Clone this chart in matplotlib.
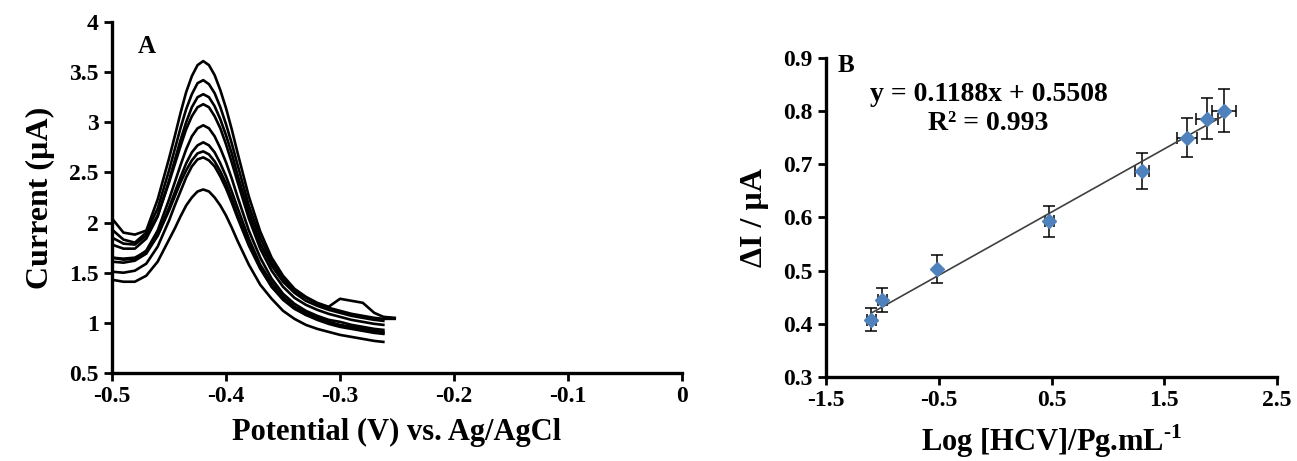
import matplotlib
matplotlib.use("Agg")
import matplotlib.pyplot as plt
import numpy as np

plt.rcParams['font.family'] = ['Liberation Serif', 'DejaVu Serif']
plt.rcParams['font.weight'] = 'bold'
plt.rcParams['axes.unicode_minus'] = False
plt.rcParams['mathtext.fontset'] = 'custom'
plt.rcParams['mathtext.rm'] = 'Liberation Serif:bold'
plt.rcParams['mathtext.bf'] = 'Liberation Serif:bold'

# --- panel A: DPV curves (potential grid shared by all curves) ---
potential = [-0.500, -0.490, -0.480, -0.470, -0.460, -0.450, -0.445, -0.440, -0.435, -0.430,
             -0.425, -0.420, -0.415, -0.410, -0.405, -0.400, -0.395, -0.390, -0.380, -0.370,
             -0.360, -0.350, -0.340, -0.330, -0.320, -0.310, -0.300, -0.290, -0.280, -0.270,
             -0.262, -0.252]

curve1 = [2.04, 1.90, 1.88, 1.92, 2.23, 2.64, 2.86, 3.09, 3.30, 3.46, 3.57, 3.61, 3.57, 3.47, 3.32, 3.14,
          2.93, 2.70, 2.26, 1.91, 1.65, 1.47, 1.34, 1.26, 1.20, 1.16, 1.24, 1.22, 1.20, 1.10, 1.06, 1.05]
curve2 = [1.93, 1.83, 1.80, 1.90, 2.14, 2.52, 2.73, 2.94, 3.13, 3.28, 3.39, 3.42, 3.38, 3.29, 3.15, 2.98,
          2.79, 2.58, 2.17, 1.85, 1.61, 1.44, 1.32, 1.25, 1.19, 1.15, 1.12, 1.09, 1.07, 1.05, 1.04, 1.04]
curve3 = [1.78, 1.74, 1.74, 1.84, 2.06, 2.42, 2.62, 2.82, 3.00, 3.15, 3.25, 3.28, 3.25, 3.16, 3.03, 2.87,
          2.69, 2.48, 2.10, 1.79, 1.57, 1.41, 1.30, 1.22, 1.17, 1.13, 1.10, 1.07, 1.05, 1.03, 1.02]
curve4 = [1.85, 1.79, 1.78, 1.87, 2.07, 2.40, 2.58, 2.76, 2.93, 3.06, 3.15, 3.18, 3.15, 3.06, 2.94, 2.78,
          2.60, 2.41, 2.04, 1.74, 1.52, 1.36, 1.25, 1.18, 1.13, 1.09, 1.06, 1.03, 1.01, 0.99, 0.98]
curve5 = [1.65, 1.63, 1.64, 1.72, 1.92, 2.23, 2.40, 2.57, 2.73, 2.86, 2.94, 2.97, 2.94, 2.86, 2.74, 2.60,
          2.44, 2.26, 1.92, 1.65, 1.44, 1.29, 1.19, 1.12, 1.07, 1.03, 1.01, 0.98, 0.96, 0.94, 0.93]
curve6 = [1.61, 1.60, 1.62, 1.69, 1.87, 2.15, 2.30, 2.45, 2.59, 2.70, 2.77, 2.80, 2.77, 2.70, 2.59, 2.46,
          2.31, 2.15, 1.84, 1.58, 1.40, 1.26, 1.16, 1.10, 1.05, 1.01, 0.98, 0.96, 0.94, 0.92, 0.91]
curve7 = [1.65, 1.64, 1.65, 1.71, 1.87, 2.12, 2.26, 2.40, 2.52, 2.62, 2.69, 2.71, 2.68, 2.61, 2.51, 2.39,
          2.24, 2.08, 1.79, 1.55, 1.36, 1.23, 1.14, 1.08, 1.03, 0.99, 0.96, 0.94, 0.92, 0.90, 0.89]
curve8 = [1.51, 1.50, 1.52, 1.59, 1.76, 2.02, 2.17, 2.31, 2.45, 2.56, 2.63, 2.65, 2.62, 2.56, 2.46, 2.34,
          2.20, 2.05, 1.77, 1.54, 1.36, 1.24, 1.15, 1.08, 1.04, 1.00, 0.97, 0.95, 0.93, 0.91, 0.90]
curve9 = [1.43, 1.41, 1.41, 1.47, 1.61, 1.83, 1.94, 2.06, 2.17, 2.25, 2.31, 2.33, 2.31, 2.25, 2.17, 2.07,
          1.95, 1.82, 1.58, 1.38, 1.24, 1.12, 1.04, 0.98, 0.94, 0.91, 0.88, 0.86, 0.84, 0.82, 0.81]

# --- panel B: calibration ---
log_conc = [-1.10, -1.00, -0.52, 0.48, 1.30, 1.70, 1.88, 2.03]
delta_i = [0.408, 0.445, 0.503, 0.593, 0.688, 0.750, 0.786, 0.801]
y_err = [0.021, 0.023, 0.026, 0.029, 0.034, 0.037, 0.038, 0.040]
x_err = [0.04, 0.04, 0.0, 0.04, 0.06, 0.09, 0.10, 0.105]
slope, intercept = 0.1188, 0.5508

fig = plt.figure(figsize=(12.97, 4.61), dpi=100)
ax1 = fig.add_axes([0.0864, 0.1909, 0.4394, 0.7614])
ax2 = fig.add_axes([0.6369, 0.1822, 0.3477, 0.692])

for c in [curve1, curve2, curve3, curve4, curve5, curve6, curve7, curve8, curve9]:
    ax1.plot(potential[:len(c)], c, color='black', lw=1.9, solid_joinstyle='round')

ax1.set_xlim(-0.5, 0)
ax1.set_ylim(0.5, 4)
ax1.set_xticks([-0.5, -0.4, -0.3, -0.2, -0.1, 0])
ax1.set_xticklabels(['-0.5', '-0.4', '-0.3', '-0.2', '-0.1', '0'])
ax1.set_yticks([0.5, 1, 1.5, 2, 2.5, 3, 3.5, 4])
ax1.set_yticklabels(['0.5', '1', '1.5', '2', '2.5', '3', '3.5', '4'])
ax1.set_xlabel('Potential (V) vs. Ag/AgCl', fontsize=22, fontweight='bold', labelpad=8)
ax1.set_ylabel('Current (µA)', fontsize=23, fontweight='bold', labelpad=10)
ax1.text(0.045, 0.93, 'A', transform=ax1.transAxes, fontsize=18, fontweight='bold', va='center')

# panel B
ax2.errorbar(log_conc, delta_i, yerr=y_err, xerr=x_err, fmt='none', ecolor='black',
             elinewidth=1.1, capsize=4, capthick=1.1, zorder=2)
xs = np.array([min(log_conc), max(log_conc)])
ax2.plot(xs, slope * xs + intercept, color='#404040', lw=1.2, zorder=3)
ax2.plot(log_conc, delta_i, 'D', color='#4f81bd', markersize=7.5, zorder=4)
ax2.set_xlim(-1.5, 2.5)
ax2.set_ylim(0.3, 0.9)
ax2.set_xticks([-1.5, -0.5, 0.5, 1.5, 2.5])
ax2.set_xticklabels(['-1.5', '-0.5', '0.5', '1.5', '2.5'])
ax2.set_yticks([0.3, 0.4, 0.5, 0.6, 0.7, 0.8, 0.9])
ax2.set_yticklabels(['0.3', '0.4', '0.5', '0.6', '0.7', '0.8', '0.9'])
ax2.set_xlabel(r'Log [HCV]/Pg.mL$^{\text{-1}}$', fontsize=22, fontweight='bold', labelpad=8)
ax2.set_ylabel('ΔI / µA', fontsize=23, fontweight='bold', labelpad=10)
ax2.text(0.025, 0.975, 'B', transform=ax2.transAxes, fontsize=18, fontweight='bold', va='center')
ax2.text(0.36, 0.885, 'y = 0.1188x + 0.5508', transform=ax2.transAxes, fontsize=20,
         fontweight='bold', ha='center', va='center')
ax2.text(0.36, 0.795, 'R² = 0.993', transform=ax2.transAxes, fontsize=20,
         fontweight='bold', ha='center', va='center')

for ax in (ax1, ax2):
    ax.spines['top'].set_visible(False)
    ax.spines['right'].set_visible(False)
    ax.spines['left'].set_linewidth(2.4)
    ax.spines['bottom'].set_linewidth(2.4)
    ax.tick_params(axis='both', direction='out', length=6, width=2, labelsize=17)
    for lab in ax.get_xticklabels() + ax.get_yticklabels():
        lab.set_fontweight('bold')

fig.savefig('out.png', dpi=100)
